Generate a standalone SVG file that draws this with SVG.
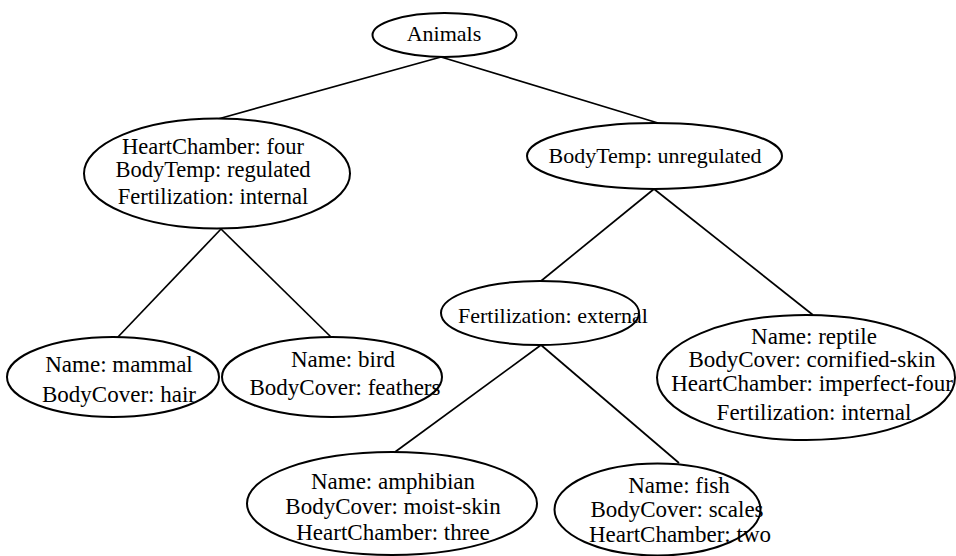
<svg xmlns="http://www.w3.org/2000/svg" width="956" height="556" viewBox="0 0 956 556">
  <style>
    .node ellipse { fill: #ffffff; stroke: #000000; stroke-width: 2; }
    .node text { font-family: "Liberation Serif", "Times New Roman", serif; font-size: 23px; fill: #000000; text-anchor: middle; }
    .node text.s { font-size: 22px; }
    .node text.m { font-size: 22.5px; }
    #edges line { stroke: #000000; stroke-width: 1.7; }
  </style>
  <rect width="956" height="556" fill="#ffffff"/>

  <g id="edges">
    <line x1="441" y1="57" x2="218" y2="119"/>
    <line x1="441" y1="57" x2="658" y2="123"/>
    <line x1="221" y1="229" x2="117" y2="338"/>
    <line x1="221" y1="229" x2="332" y2="338"/>
    <line x1="654" y1="189" x2="541" y2="281"/>
    <line x1="654" y1="189" x2="813" y2="315"/>
    <line x1="541" y1="345" x2="395" y2="452"/>
    <line x1="541" y1="345" x2="679" y2="463"/>
  </g>

  <g id="animals" class="node">
    <ellipse cx="444.5" cy="35" rx="72" ry="22"/>
    <text class="s" x="444" y="41">Animals</text>
  </g>

  <g id="warm-blooded" class="node">
    <ellipse cx="217" cy="173.5" rx="133" ry="55"/>
    <text class="m" x="213" y="154">HeartChamber: four</text>
    <text class="m" x="213" y="177">BodyTemp: regulated</text>
    <text class="m" x="213" y="204">Fertilization: internal</text>
  </g>

  <g id="cold-blooded" class="node">
    <ellipse cx="654.5" cy="156" rx="127.5" ry="33"/>
    <text class="s" x="655" y="163">BodyTemp: unregulated</text>
  </g>

  <g id="mammal" class="node">
    <ellipse cx="113" cy="377" rx="106" ry="40"/>
    <text x="119" y="372">Name: mammal</text>
    <text x="119" y="402">BodyCover: hair</text>
  </g>

  <g id="bird" class="node">
    <ellipse cx="332" cy="377" rx="110" ry="40"/>
    <text x="343" y="367">Name: bird</text>
    <text x="345" y="395">BodyCover: feathers</text>
  </g>

  <g id="external-fertilization" class="node">
    <ellipse cx="540" cy="313" rx="99" ry="32"/>
    <text class="s" x="553" y="323">Fertilization: external</text>
  </g>

  <g id="reptile" class="node">
    <ellipse cx="806" cy="377.5" rx="149" ry="62.5"/>
    <text x="814" y="344">Name: reptile</text>
    <text x="812" y="367">BodyCover: cornified-skin</text>
    <text x="812" y="391">HeartChamber: imperfect-four</text>
    <text x="814" y="420">Fertilization: internal</text>
  </g>

  <g id="amphibian" class="node">
    <ellipse cx="392" cy="503.5" rx="145" ry="51.5"/>
    <text x="393" y="489">Name: amphibian</text>
    <text x="393" y="514">BodyCover: moist-skin</text>
    <text x="393" y="540">HeartChamber: three</text>
  </g>

  <g id="fish" class="node">
    <ellipse cx="657.5" cy="509.5" rx="103" ry="46"/>
    <text x="679" y="493">Name: fish</text>
    <text x="677" y="517">BodyCover: scales</text>
    <text x="680" y="542">HeartChamber: two</text>
  </g>
</svg>
